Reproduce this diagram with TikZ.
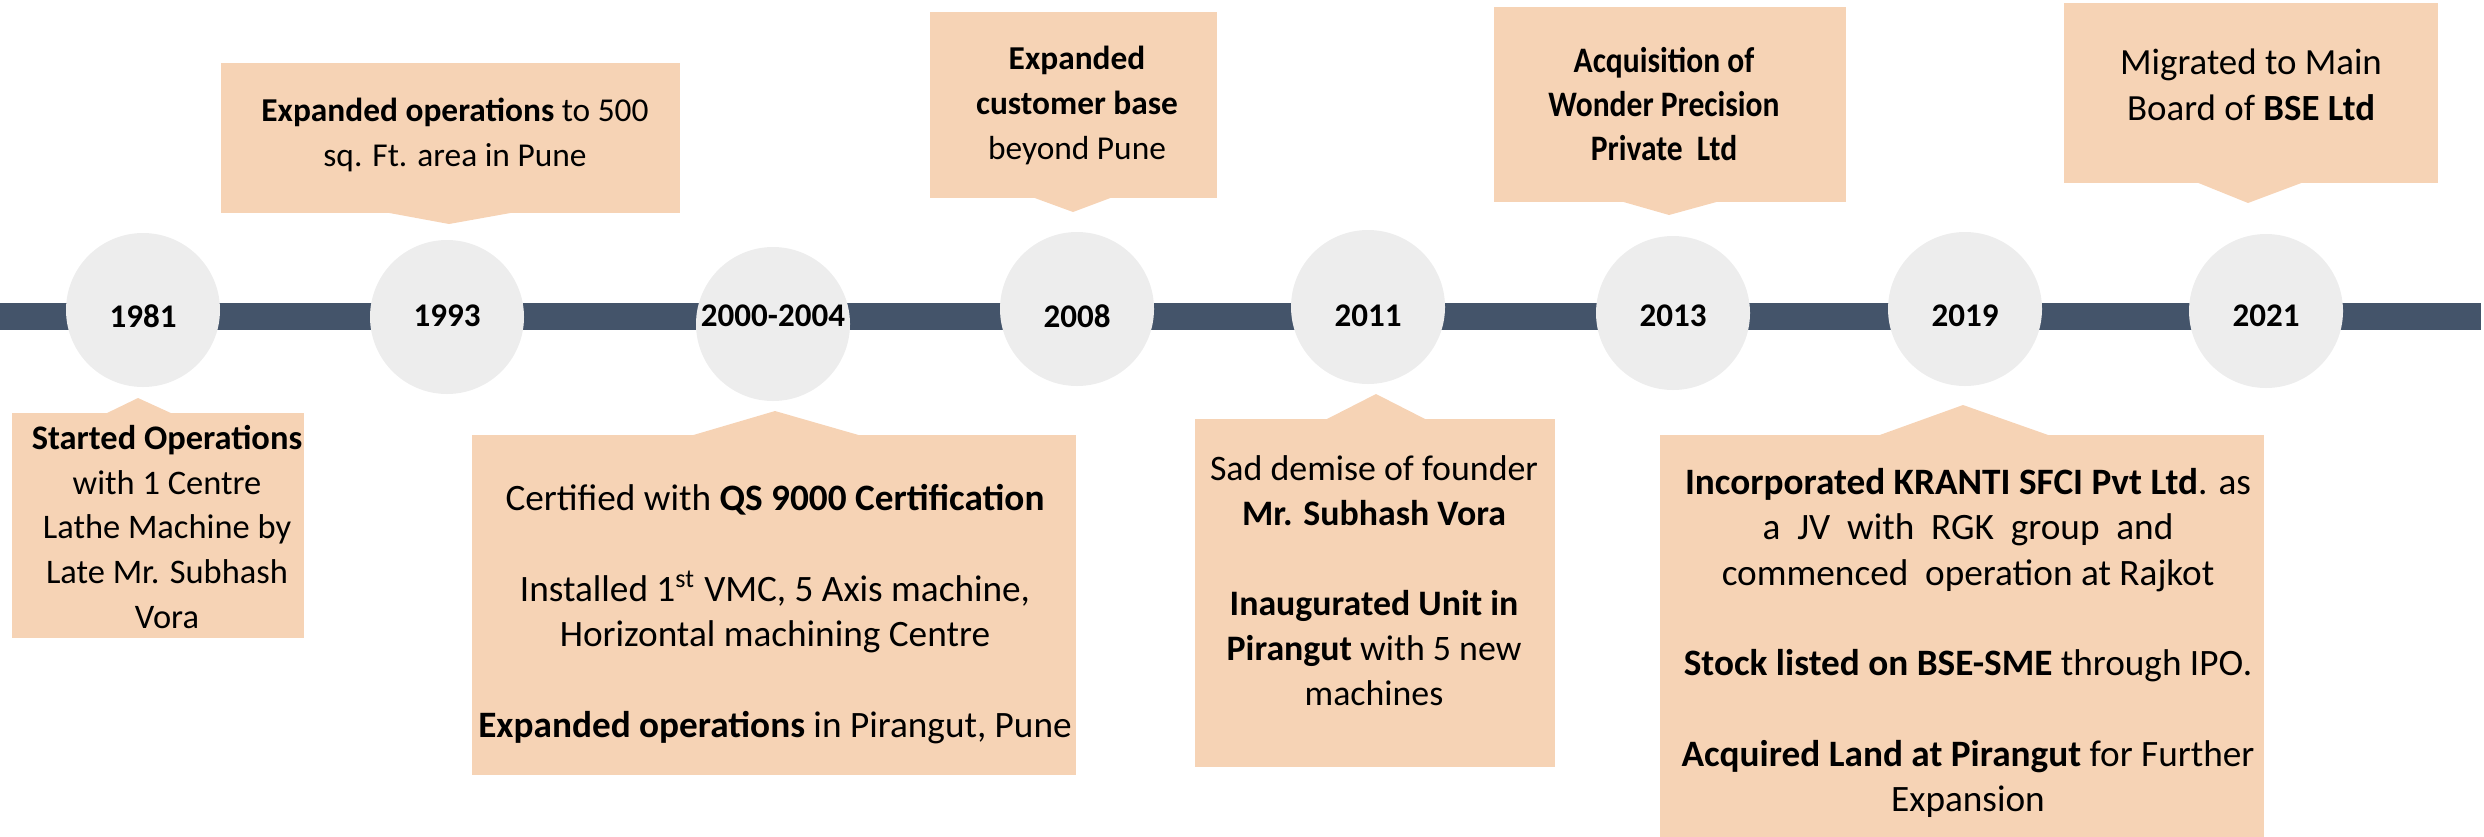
\documentclass[tikz,border=0pt]{standalone}
\usepackage{fontspec}
\setmainfont{Carlito}
\usetikzlibrary{shapes, arrows}
\definecolor{barblue}{HTML}{44546A}
\definecolor{dotgray}{HTML}{EDEDED}
\definecolor{peach}{HTML}{F6D3B5}
\tikzstyle{bar} = [fill=barblue]
\tikzstyle{box} = [fill=peach]
\tikzstyle{dot} = [circle,fill=dotgray,minimum size=15.4mm,inner sep=0pt]
\tikzstyle{yr} = [font=\fontsize{9.4pt}{11pt}\selectfont\bfseries,inner sep=0pt]
\tikzstyle{txt} = [align=center,inner sep=0pt,font=\fontsize{9.8pt}{12.8pt}\selectfont]
\tikzstyle{bigtxt} = [txt,font=\fontsize{10.6pt}{12.9pt}\selectfont]

\begin{document}
\begin{tikzpicture}[x=0.1mm,y=-0.1mm]

                    \useasboundingbox (0,0) rectangle (2484,836);

                    % Time line
                    \fill[bar] (0,303) rectangle (2481,330);

                    % Year dots
                    \node[dot] (d1981) at (143,310) {};
                    \node[dot] (d1993) at (447,317) {};
                    \node[dot] (d2000) at (773,324) {};
                    \node[dot] (d2008) at (1077,309) {};
                    \node[dot] (d2011) at (1368,307) {};
                    \node[dot] (d2013) at (1673,313) {};
                    \node[dot] (d2019) at (1965,309) {};
                    \node[dot] (d2021) at (2266,311) {};

                    \node[yr] (t1981) at (143,316) {1981};
                    \node[yr] (t1993) at (447,316) {1993};
                    \node[yr] (t2000) at (773,316) {2000-2004};
                    \node[yr] (t2008) at (1077,316) {2008};
                    \node[yr] (t2011) at (1368,316) {2011};
                    \node[yr] (t2013) at (1673,316) {2013};
                    \node[yr] (t2019) at (1965,316) {2019};
                    \node[yr] (t2021) at (2266,316) {2021};

                    % Callouts above the line
                    \fill[box] (221,63) rectangle (680,213);
                    \fill[box] (384,212) -- (449,224) -- (516,212) -- cycle;
                    \node[txt,font=\fontsize{9.5pt}{12.6pt}\selectfont] (e1993) at (455,135) {\textbf{Expanded operations} to 500\\ sq. Ft. area in Pune};

                    \fill[box] (930,12) rectangle (1217,198);
                    \fill[box] (1032,197) -- (1073,212) -- (1113,197) -- cycle;
                    \node[txt,font=\fontsize{9.5pt}{12.8pt}\selectfont] (e2008) at (1077,105) {\textbf{Expanded}\\ \textbf{customer base}\\ beyond Pune};

                    \fill[box] (1494,7) rectangle (1846,202);
                    \fill[box] (1620,201) -- (1669,215) -- (1720,201) -- cycle;
                    \node[txt,font=\fontsize{10.2pt}{12.5pt}\selectfont\bfseries\addfontfeatures{FakeStretch=0.88}] (e2013) at (1664,104) {Acquisition of\\ Wonder Precision\\ Private~ Ltd};

                    \fill[box] (2064,3) rectangle (2438,183);
                    \fill[box] (2196,182) -- (2248,203) -- (2304,182) -- cycle;
                    \node[txt,font=\fontsize{10.5pt}{13pt}\selectfont] (e2021) at (2251,85) {Migrated to Main\\ Board of \textbf{BSE Ltd}};

                    % Callouts below the line
                    \fill[box] (12,413) rectangle (304,638);
                    \fill[box] (105,414) -- (138,398) -- (173,414) -- cycle;
                    \node[txt] (e1981) at (167,527) {\textbf{Started Operations}\\ with 1 Centre\\ Lathe Machine by\\ Late Mr. Subhash\\ Vora};

                    \fill[box] (472,435) rectangle (1076,775);
                    \fill[box] (690,436) -- (775,411) -- (862,436) -- cycle;
                    \node[bigtxt] (e2000) at (775,614) {Certified with \textbf{QS 9000 Certification}\\[12.9pt]
                        Installed 1\textsuperscript{st} VMC, 5 Axis machine,\\ Horizontal machining Centre\\[12.9pt]
                        \textbf{Expanded operations} in Pirangut, Pune};

                    \fill[box] (1195,419) rectangle (1555,767);
                    \fill[box] (1325,420) -- (1376,394) -- (1427,420) -- cycle;
                    \node[txt,font=\fontsize{10.2pt}{12.8pt}\selectfont] (e2011) at (1374,581) {Sad demise of founder\\ \textbf{Mr. Subhash Vora}\\[12.8pt]
                        \textbf{Inaugurated Unit in}\\ \textbf{Pirangut} with 5 new\\ machines};

                    \fill[box] (1660,435) rectangle (2264,840);
                    \fill[box] (1877,436) -- (1963,405) -- (2051,436) -- cycle;
                    \node[bigtxt] (e2019) at (1968,643) {\textbf{Incorporated KRANTI SFCI Pvt Ltd}. as\\
                        a~ JV~ with~ RGK~ group~ and\\ commenced~ operation at Rajkot\\[12.9pt]
                        \textbf{Stock listed on BSE-SME} through IPO.\\[12.9pt]
                        \textbf{Acquired Land at Pirangut} for Further\\ Expansion};

                \end{tikzpicture}
\end{document}
